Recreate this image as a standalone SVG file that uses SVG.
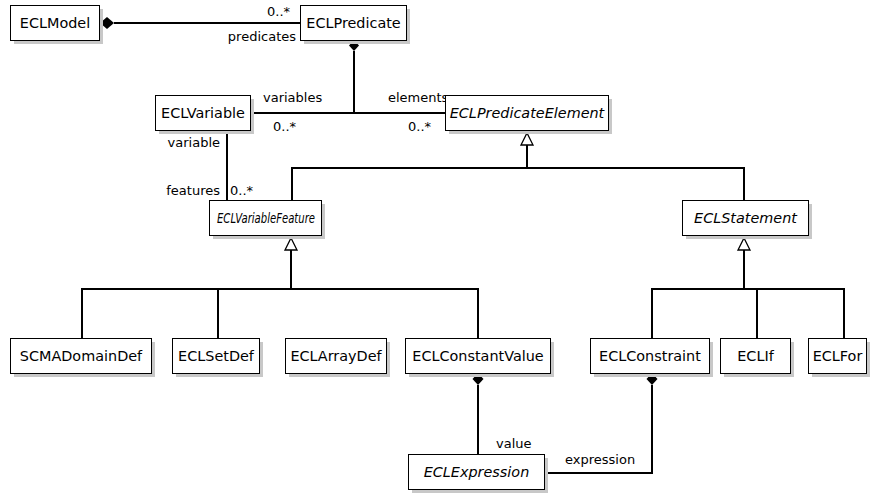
<svg xmlns="http://www.w3.org/2000/svg" width="872" height="494" viewBox="0 0 872 494">
<style>
.box{fill:#fff;stroke:#000;stroke-width:1}
.sh{fill:#c8c8c8}
.cn{font-family:"DejaVu Sans","Liberation Sans",sans-serif;font-size:14.4px;fill:#000;text-anchor:middle}
.ab{font-style:italic}
.lb{font-family:"DejaVu Sans","Liberation Sans",sans-serif;font-size:13px;fill:#000}
.ln{fill:none;stroke:#000;stroke-width:2}
.dm{fill:#000;stroke:none}
.tri{fill:#fff;stroke:#000;stroke-width:1.3}
</style>
<rect width="872" height="494" fill="#fff"/>
<g id="connectors">
<path class="ln" d="M114 23 H300"/>
<path class="dm" d="M100 23 L107 17 L114 23 L107 29 Z"/>
<path class="ln" d="M354 51 V113"/>
<path class="dm" d="M354 40 L359 45.5 L354 51 L349 45.5 Z"/>
<path class="ln" d="M250 113 H445"/>
<path class="ln" d="M227 130 V200"/>
<path class="ln" d="M527 145 V168 M292 200 V168 H744 V200"/>
<path class="tri" d="M527 133 L533 145 L521 145 Z"/>
<path class="ln" d="M291 250 V289 M82 338 V289 H478 V338 M218 289 V338"/>
<path class="tri" d="M291 238 L297 250 L285 250 Z"/>
<path class="ln" d="M744 250 V289 M652 338 V289 H844 V338 M757 289 V338"/>
<path class="tri" d="M744 238 L750 250 L738 250 Z"/>
<path class="ln" d="M478 385 V454"/>
<path class="dm" d="M478 373 L483.5 379 L478 385 L472.5 379 Z"/>
<path class="ln" d="M652 385 V473 H548"/>
<path class="dm" d="M652 373 L657.5 379 L652 385 L646.5 379 Z"/>
<text class="lb" x="267" y="16">0..*</text>
<text class="lb" x="296" y="41" text-anchor="end">predicates</text>
<text class="lb" x="263" y="102">variables</text>
<text class="lb" x="388" y="102">elements</text>
<text class="lb" x="273" y="131">0..*</text>
<text class="lb" x="408" y="131">0..*</text>
<text class="lb" x="220" y="147" text-anchor="end">variable</text>
<text class="lb" x="220" y="195" text-anchor="end">features</text>
<text class="lb" x="230" y="195">0..*</text>
<text class="lb" x="496" y="448">value</text>
<text class="lb" x="565" y="464">expression</text>
</g>
<g id="ECLModel"><rect class="sh" x="14" y="9" width="89" height="35"/><rect class="box" x="10.5" y="5.5" width="89" height="35"/><text class="cn" x="55" y="28">ECLModel</text></g>
<g id="ECLPredicate"><rect class="sh" x="304" y="9" width="106" height="35"/><rect class="box" x="300.5" y="5.5" width="106" height="35"/><text class="cn" x="353.5" y="28">ECLPredicate</text></g>
<g id="ECLVariable"><rect class="sh" x="159" y="99" width="95" height="35"/><rect class="box" x="155.5" y="95.5" width="95" height="35"/><text class="cn" x="203" y="118">ECLVariable</text></g>
<g id="ECLPredicateElement"><rect class="sh" x="449" y="99" width="163" height="35"/><rect class="box" x="445.5" y="95.5" width="163" height="35"/><text class="cn ab" x="527" y="118">ECLPredicateElement</text></g>
<g id="ECLVariableFeature"><rect class="sh" x="213" y="204" width="112" height="35"/><rect class="box" x="209.5" y="200.5" width="112" height="35"/><text class="cn ab" x="266" y="223" textLength="98" lengthAdjust="spacingAndGlyphs">ECLVariableFeature</text></g>
<g id="ECLStatement"><rect class="sh" x="686" y="204" width="126" height="35"/><rect class="box" x="682.5" y="200.5" width="126" height="35"/><text class="cn ab" x="745.5" y="223">ECLStatement</text></g>
<g id="SCMADomainDef"><rect class="sh" x="14" y="342" width="141" height="35"/><rect class="box" x="10.5" y="338.5" width="141" height="35"/><text class="cn" x="81" y="361">SCMADomainDef</text></g>
<g id="ECLSetDef"><rect class="sh" x="176" y="342" width="87" height="35"/><rect class="box" x="172.5" y="338.5" width="87" height="35"/><text class="cn" x="216" y="361">ECLSetDef</text></g>
<g id="ECLArrayDef"><rect class="sh" x="289" y="342" width="101" height="35"/><rect class="box" x="285.5" y="338.5" width="101" height="35"/><text class="cn" x="336" y="361">ECLArrayDef</text></g>
<g id="ECLConstantValue"><rect class="sh" x="409" y="342" width="145" height="35"/><rect class="box" x="405.5" y="338.5" width="145" height="35"/><text class="cn" x="478" y="361">ECLConstantValue</text></g>
<g id="ECLConstraint"><rect class="sh" x="594" y="342" width="119" height="35"/><rect class="box" x="590.5" y="338.5" width="119" height="35"/><text class="cn" x="650" y="361">ECLConstraint</text></g>
<g id="ECLIf"><rect class="sh" x="724" y="342" width="70" height="35"/><rect class="box" x="720.5" y="338.5" width="70" height="35"/><text class="cn" x="755.5" y="361">ECLIf</text></g>
<g id="ECLFor"><rect class="sh" x="812" y="342" width="58" height="35"/><rect class="box" x="808.5" y="338.5" width="58" height="35"/><text class="cn" x="837.5" y="361">ECLFor</text></g>
<g id="ECLExpression"><rect class="sh" x="412" y="458" width="136" height="35"/><rect class="box" x="408.5" y="454.5" width="136" height="35"/><text class="cn ab" x="476.5" y="477">ECLExpression</text></g>
</svg>
